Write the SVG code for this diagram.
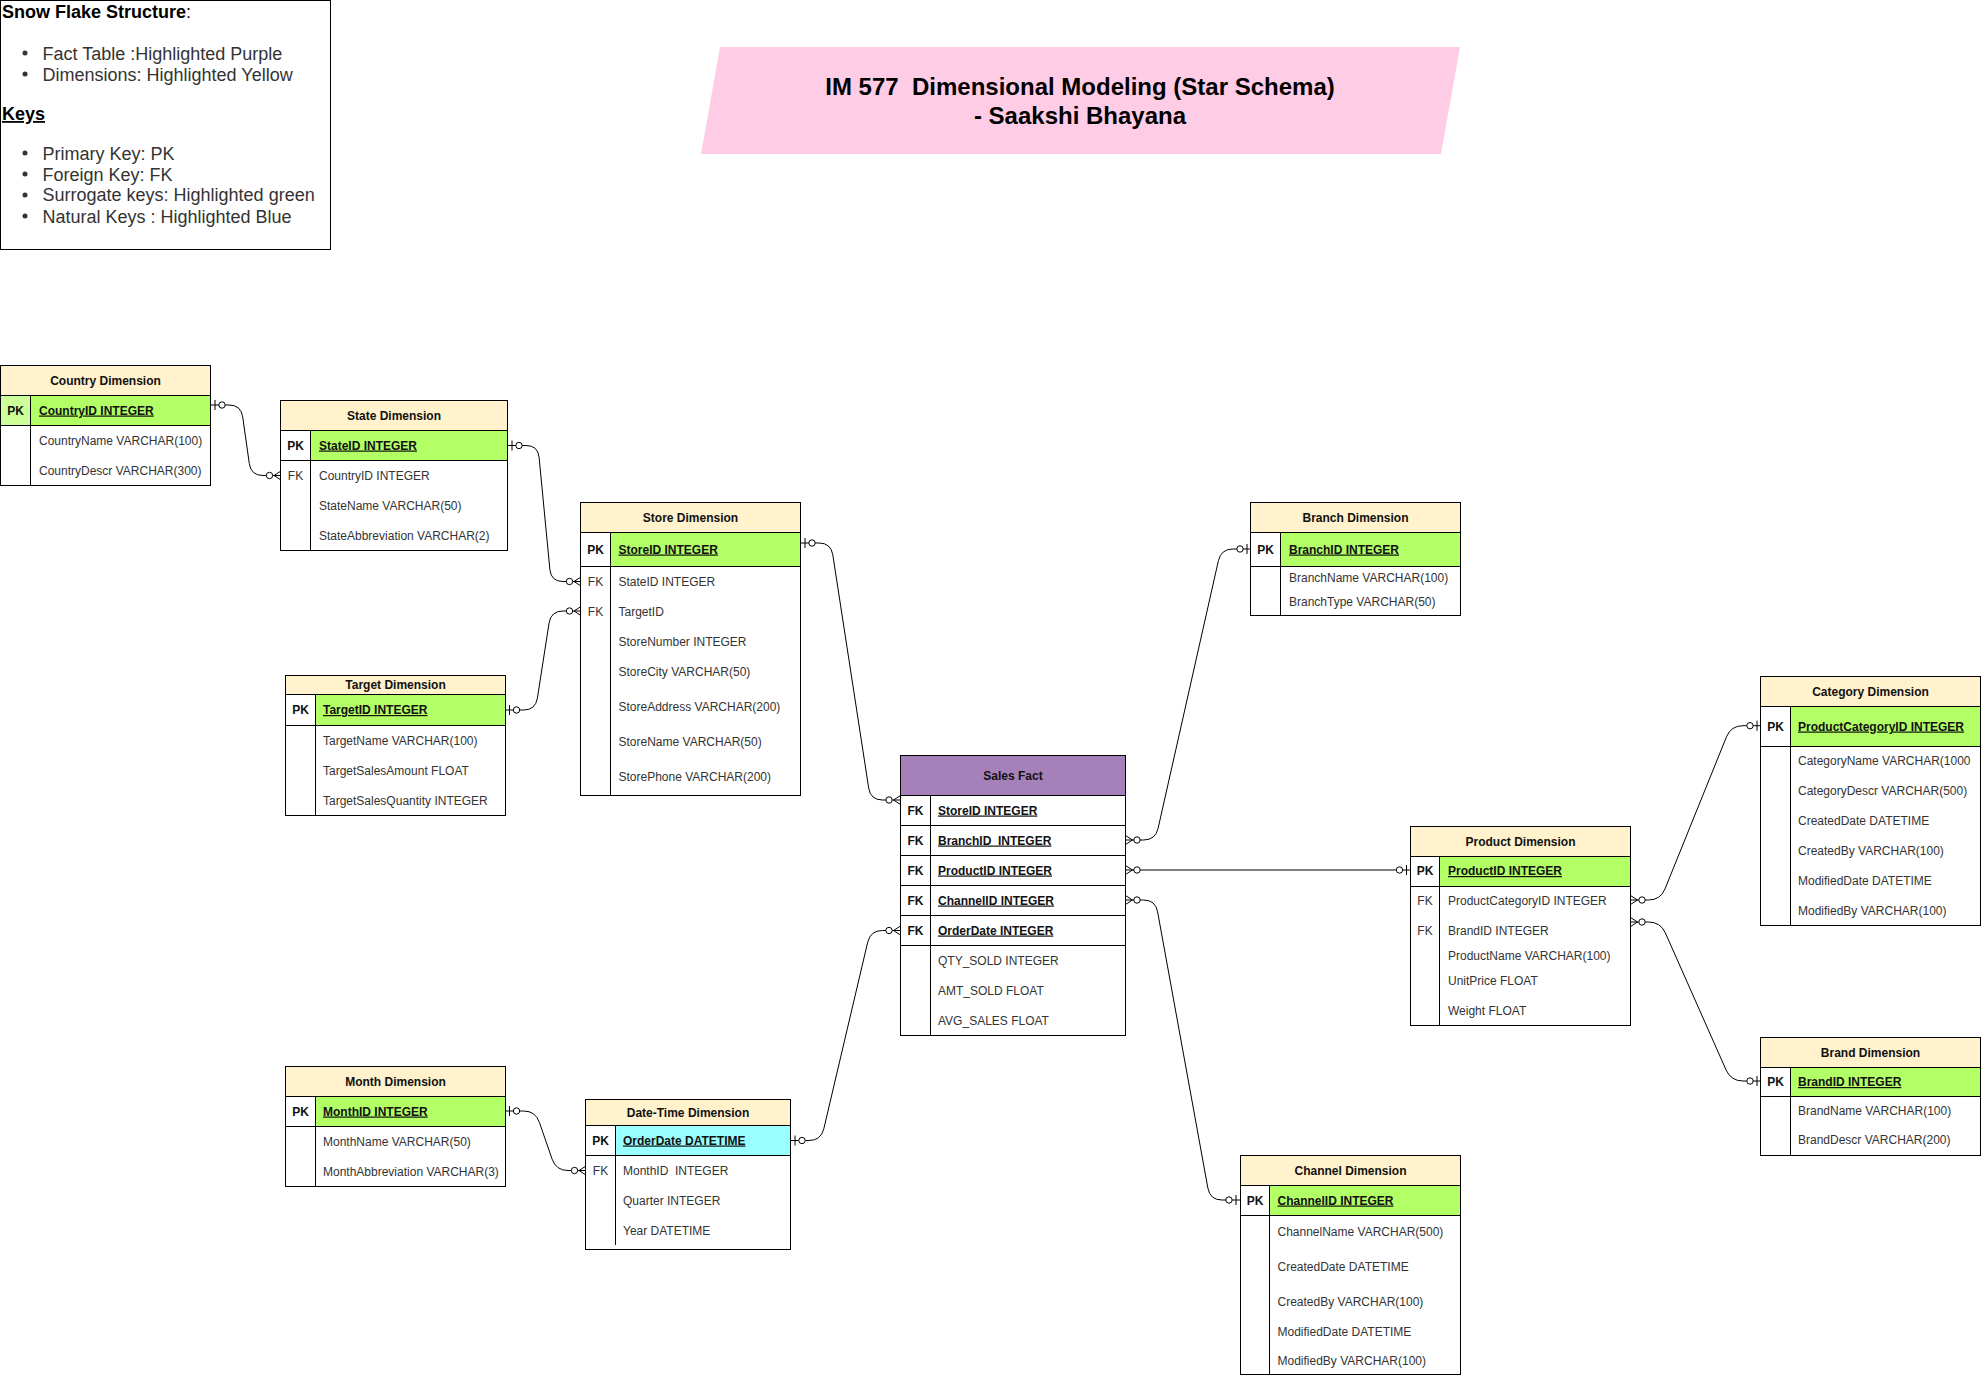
<svg xmlns="http://www.w3.org/2000/svg" width="1982" height="1376" viewBox="0 0 1982 1376">
<style>
.bg{fill:#fff}
.frame{fill:none;stroke:#000;stroke-width:1}
.body{fill:#fff}
.hdr{fill:#FFF2CC}
.hdrP{fill:#A680B8}
.pk{fill:#B3FF66}
.pkl{fill:#CCFF99}
.nk{fill:#99FFFF}
.ln{stroke:#000;stroke-width:1;fill:none}
.t{font-family:"Liberation Sans",Arial,sans-serif;font-size:12px;fill:#333}
.b{font-weight:bold;fill:#111}
.u{text-decoration:underline}
.c{text-anchor:middle}
.conn{fill:none;stroke:#000;stroke-width:1}
.lg{font-family:"Liberation Sans",Arial,sans-serif;font-size:18px;fill:#333}
.lgh{font-family:"Liberation Sans",Arial,sans-serif;font-size:18px;fill:#000}
.title{font-family:"Liberation Sans",Arial,sans-serif;font-size:24px;font-weight:bold;fill:#000;text-anchor:middle}
</style>
<defs>
<marker id="zeroOne" markerUnits="userSpaceOnUse" orient="auto-start-reverse" refX="0" refY="0" markerWidth="24" markerHeight="16" viewBox="-20 -8 24 16" overflow="visible">
<path d="M-4,-5 V5" fill="none" stroke="#000" stroke-width="1"/>
<circle cx="-11" cy="0" r="3.2" fill="#fff" stroke="#000" stroke-width="1"/>
</marker>
<marker id="zeroMany" markerUnits="userSpaceOnUse" orient="auto-start-reverse" refX="0" refY="0" markerWidth="24" markerHeight="16" viewBox="-20 -8 24 16" overflow="visible">
<path d="M0,-4.5 L-7,0 L0,4.5" fill="none" stroke="#000" stroke-width="1"/>
<circle cx="-11.5" cy="0" r="3.2" fill="#fff" stroke="#000" stroke-width="1"/>
</marker>
</defs>
<rect class="bg" x="0" y="0" width="1982" height="1376"/>

<g id="legend">
<rect x="0.5" y="0.5" width="330" height="249" fill="#fff" stroke="#000"/>
<text class="lgh" x="2" y="17.5"><tspan font-weight="bold">Snow Flake Structure</tspan>:</text>
<circle cx="25" cy="53" r="2.5" fill="#333"/>
<text class="lg" x="42.5" y="59.5">Fact Table :Highlighted Purple</text>
<circle cx="25" cy="74" r="2.5" fill="#333"/>
<text class="lg" x="42.5" y="80.5">Dimensions: Highlighted Yellow</text>
<text class="lgh" x="2" y="120" font-weight="bold" text-decoration="underline">Keys</text>
<circle cx="25" cy="153" r="2.5" fill="#333"/>
<text class="lg" x="42.5" y="159.5">Primary Key: PK</text>
<circle cx="25" cy="174" r="2.5" fill="#333"/>
<text class="lg" x="42.5" y="180.5">Foreign Key: FK</text>
<circle cx="25" cy="195" r="2.5" fill="#333"/>
<text class="lg" x="42.5" y="201">Surrogate keys: Highlighted green</text>
<circle cx="25" cy="216" r="2.5" fill="#333"/>
<text class="lg" x="42.5" y="222.5">Natural Keys : Highlighted Blue</text>
</g>

<g id="title">
<polygon points="720,47 1460,47 1441,154 701,154" fill="#FFCCE6"/>
<text class="title" x="1080" y="94.5" xml:space="preserve">IM 577  Dimensional Modeling (Star Schema)</text>
<text class="title" x="1080" y="123.5">- Saakshi Bhayana</text>
</g>

<g id="connectors">
<path class="conn" marker-start="url(#zeroOne)" marker-end="url(#zeroMany)" d="M211,405 H229 Q241,405 242.7,416.9 L249.3,463.6 Q251,475.5 263,475.5 H281"/>
<path class="conn" marker-start="url(#zeroOne)" marker-end="url(#zeroMany)" d="M508,445.5 H526 Q538,445.5 539.1,457.4 L549.9,569.6 Q551,581.5 563,581.5 H581"/>
<path class="conn" marker-start="url(#zeroOne)" marker-end="url(#zeroMany)" d="M505.5,710 H523.5 Q535.5,710 537.4,698.1 L549.1,622.9 Q551,611 563,611 H581"/>
<path class="conn" marker-start="url(#zeroOne)" marker-end="url(#zeroMany)" d="M801,543 H819 Q831,543 832.8,554.9 L868.7,788.1 Q870.5,800 882.5,800 H900.5"/>
<path class="conn" marker-start="url(#zeroMany)" marker-end="url(#zeroOne)" d="M1125.5,840 H1143.5 Q1155.5,840 1158.1,828.3 L1218.4,560.7 Q1221,549 1233,549 H1251"/>
<path class="conn" marker-start="url(#zeroMany)" marker-end="url(#zeroOne)" d="M1125.5,870 H1410.5"/>
<path class="conn" marker-start="url(#zeroMany)" marker-end="url(#zeroOne)" d="M1125.5,900 H1143.5 Q1155.5,900 1157.6,911.8 L1207.9,1188.2 Q1210,1200 1222,1200 H1240"/>
<path class="conn" marker-start="url(#zeroOne)" marker-end="url(#zeroMany)" d="M791,1140.5 H809 Q821,1140.5 823.8,1128.8 L867.7,942.2 Q870.5,930.5 882.5,930.5 H900.5"/>
<path class="conn" marker-start="url(#zeroOne)" marker-end="url(#zeroMany)" d="M505.5,1111 H523.5 Q535.5,1111 539.4,1122.4 L552.1,1159.1 Q556,1170.5 568,1170.5 H586"/>
<path class="conn" marker-start="url(#zeroMany)" marker-end="url(#zeroOne)" d="M1630.5,900 H1648.5 Q1660.5,900 1665,888.9 L1726.5,736.8 Q1731,725.7 1743,725.7 H1761"/>
<path class="conn" marker-start="url(#zeroMany)" marker-end="url(#zeroOne)" d="M1630.5,922 H1648.5 Q1660.5,922 1665.4,933 L1726.1,1070 Q1731,1081 1743,1081 H1761"/>
</g>

<g id="country-dimension">
<rect class="body" x="0.5" y="365.5" width="210" height="120"/>
<rect class="hdr" x="0.5" y="365.5" width="210" height="30"/>
<rect class="pkl" x="0.5" y="395.5" width="30" height="30"/>
<rect class="pk" x="30.5" y="395.5" width="180" height="30"/>
<path class="ln" d="M0.5,395.5 H210.5 M0.5,425.5 H210.5 M30.5,395.5 V485.5"/>
<rect class="frame" x="0.5" y="365.5" width="210" height="120"/>
<text class="t b c" x="105.5" y="384.5">Country Dimension</text>
<text class="t b c" x="15.5" y="414.5">PK</text>
<text class="t b u" x="39" y="414.5">CountryID INTEGER</text>
<text class="t" x="39" y="444.5">CountryName VARCHAR(100)</text>
<text class="t" x="39" y="474.5">CountryDescr VARCHAR(300)</text>
</g>

<g id="state-dimension">
<rect class="body" x="280.5" y="400.5" width="227" height="150"/>
<rect class="hdr" x="280.5" y="400.5" width="227" height="30"/>
<rect class="pk" x="310.5" y="430.5" width="197" height="30"/>
<path class="ln" d="M280.5,430.5 H507.5 M280.5,460.5 H507.5 M310.5,430.5 V550.5"/>
<rect class="frame" x="280.5" y="400.5" width="227" height="150"/>
<text class="t b c" x="394" y="419.5">State Dimension</text>
<text class="t b c" x="295.5" y="449.5">PK</text>
<text class="t b u" x="319" y="449.5">StateID INTEGER</text>
<text class="t c" x="295.5" y="479.5">FK</text>
<text class="t" x="319" y="479.5">CountryID INTEGER</text>
<text class="t" x="319" y="509.5">StateName VARCHAR(50)</text>
<text class="t" x="319" y="539.5">StateAbbreviation VARCHAR(2)</text>
</g>

<g id="store-dimension">
<rect class="body" x="580.5" y="502.5" width="220" height="293"/>
<rect class="hdr" x="580.5" y="502.5" width="220" height="30"/>
<rect class="pk" x="610.5" y="532.5" width="190" height="34"/>
<path class="ln" d="M580.5,532.5 H800.5 M580.5,566.5 H800.5 M610.5,532.5 V795.5"/>
<rect class="frame" x="580.5" y="502.5" width="220" height="293"/>
<text class="t b c" x="690.5" y="521.5">Store Dimension</text>
<text class="t b c" x="595.5" y="553.5">PK</text>
<text class="t b u" x="618.5" y="553.5">StoreID INTEGER</text>
<text class="t c" x="595.5" y="585.5">FK</text>
<text class="t" x="618.5" y="585.5">StateID INTEGER</text>
<text class="t c" x="595.5" y="615.5">FK</text>
<text class="t" x="618.5" y="615.5">TargetID</text>
<text class="t" x="618.5" y="645.5">StoreNumber INTEGER</text>
<text class="t" x="618.5" y="675.5">StoreCity VARCHAR(50)</text>
<text class="t" x="618.5" y="710.5">StoreAddress VARCHAR(200)</text>
<text class="t" x="618.5" y="745.5">StoreName VARCHAR(50)</text>
<text class="t" x="618.5" y="780.5">StorePhone VARCHAR(200)</text>
</g>

<g id="target-dimension">
<rect class="body" x="285.5" y="675.5" width="220" height="140"/>
<rect class="hdr" x="285.5" y="675.5" width="220" height="19"/>
<rect class="pk" x="315.5" y="694.5" width="190" height="31"/>
<path class="ln" d="M285.5,694.5 H505.5 M285.5,725.5 H505.5 M315.5,694.5 V815.5"/>
<rect class="frame" x="285.5" y="675.5" width="220" height="140"/>
<text class="t b c" x="395.5" y="689">Target Dimension</text>
<text class="t b c" x="300.5" y="714">PK</text>
<text class="t b u" x="323" y="714">TargetID INTEGER</text>
<text class="t" x="323" y="744.7">TargetName VARCHAR(100)</text>
<text class="t" x="323" y="774.7">TargetSalesAmount FLOAT</text>
<text class="t" x="323" y="804.7">TargetSalesQuantity INTEGER</text>
</g>

<g id="month-dimension">
<rect class="body" x="285.5" y="1066.5" width="220" height="120"/>
<rect class="hdr" x="285.5" y="1066.5" width="220" height="30"/>
<rect class="pk" x="315.5" y="1096.5" width="190" height="30"/>
<path class="ln" d="M285.5,1096.5 H505.5 M285.5,1126.5 H505.5 M315.5,1096.5 V1186.5"/>
<rect class="frame" x="285.5" y="1066.5" width="220" height="120"/>
<text class="t b c" x="395.5" y="1085.5">Month Dimension</text>
<text class="t b c" x="300.5" y="1115.5">PK</text>
<text class="t b u" x="323" y="1115.5">MonthID INTEGER</text>
<text class="t" x="323" y="1145.5">MonthName VARCHAR(50)</text>
<text class="t" x="323" y="1175.5">MonthAbbreviation VARCHAR(3)</text>
</g>

<g id="datetime-dimension">
<rect class="body" x="585.5" y="1099.5" width="205" height="150"/>
<rect class="hdr" x="585.5" y="1099.5" width="205" height="26"/>
<rect class="nk" x="615.5" y="1125.5" width="175" height="30"/>
<path class="ln" d="M585.5,1125.5 H790.5 M585.5,1155.5 H790.5 M615.5,1125.5 V1245"/>
<rect class="frame" x="585.5" y="1099.5" width="205" height="150"/>
<text class="t b c" x="688" y="1116.5">Date-Time Dimension</text>
<text class="t b c" x="600.5" y="1144.5">PK</text>
<text class="t b u" x="623" y="1144.5">OrderDate DATETIME</text>
<text class="t c" x="600.5" y="1174.5">FK</text>
<text class="t" x="623" y="1174.5" xml:space="preserve">MonthID  INTEGER</text>
<text class="t" x="623" y="1204.5">Quarter INTEGER</text>
<text class="t" x="623" y="1234.5">Year DATETIME</text>
</g>

<g id="sales-fact">
<rect class="body" x="900.5" y="755.5" width="225" height="280"/>
<rect class="hdrP" x="900.5" y="755.5" width="225" height="40"/>
<path class="ln" d="M900.5,795.5 H1125.5 M900.5,825.5 H1125.5 M900.5,855.5 H1125.5 M900.5,885.5 H1125.5 M900.5,915.5 H1125.5 M900.5,945.5 H1125.5 M930.5,795.5 V1035.5"/>
<rect class="frame" x="900.5" y="755.5" width="225" height="280"/>
<text class="t b c" x="1013" y="779.5">Sales Fact</text>
<text class="t b c" x="915.5" y="814.5">FK</text>
<text class="t b u" x="938" y="814.5">StoreID INTEGER</text>
<text class="t b c" x="915.5" y="844.5">FK</text>
<text class="t b u" x="938" y="844.5" xml:space="preserve">BranchID  INTEGER</text>
<text class="t b c" x="915.5" y="874.5">FK</text>
<text class="t b u" x="938" y="874.5">ProductID INTEGER</text>
<text class="t b c" x="915.5" y="904.5">FK</text>
<text class="t b u" x="938" y="904.5">ChannelID INTEGER</text>
<text class="t b c" x="915.5" y="934.5">FK</text>
<text class="t b u" x="938" y="934.5">OrderDate INTEGER</text>
<text class="t" x="938" y="964.5">QTY_SOLD INTEGER</text>
<text class="t" x="938" y="994.5">AMT_SOLD FLOAT</text>
<text class="t" x="938" y="1024.5">AVG_SALES FLOAT</text>
</g>

<g id="branch-dimension">
<rect class="body" x="1250.5" y="502.5" width="210" height="113"/>
<rect class="hdr" x="1250.5" y="502.5" width="210" height="30"/>
<rect class="pk" x="1280.5" y="532.5" width="180" height="34"/>
<path class="ln" d="M1250.5,532.5 H1460.5 M1250.5,566.5 H1460.5 M1280.5,532.5 V615.5"/>
<rect class="frame" x="1250.5" y="502.5" width="210" height="113"/>
<text class="t b c" x="1355.5" y="521.5">Branch Dimension</text>
<text class="t b c" x="1265.5" y="553.5">PK</text>
<text class="t b u" x="1289" y="553.5">BranchID INTEGER</text>
<text class="t" x="1289" y="582">BranchName VARCHAR(100)</text>
<text class="t" x="1289" y="606">BranchType VARCHAR(50)</text>
</g>

<g id="product-dimension">
<rect class="body" x="1410.5" y="826.5" width="220" height="199"/>
<rect class="hdr" x="1410.5" y="826.5" width="220" height="30"/>
<rect class="pk" x="1439.5" y="856.5" width="191" height="30"/>
<path class="ln" d="M1410.5,856.5 H1630.5 M1410.5,886.5 H1630.5 M1439.5,856.5 V1025.5"/>
<rect class="frame" x="1410.5" y="826.5" width="220" height="199"/>
<text class="t b c" x="1520.5" y="845.5">Product Dimension</text>
<text class="t b c" x="1425" y="875">PK</text>
<text class="t b u" x="1448" y="875">ProductID INTEGER</text>
<text class="t c" x="1425" y="905">FK</text>
<text class="t" x="1448" y="905">ProductCategoryID INTEGER</text>
<text class="t c" x="1425" y="935">FK</text>
<text class="t" x="1448" y="935">BrandID INTEGER</text>
<text class="t" x="1448" y="960">ProductName VARCHAR(100)</text>
<text class="t" x="1448" y="985">UnitPrice FLOAT</text>
<text class="t" x="1448" y="1015">Weight FLOAT</text>
</g>

<g id="category-dimension">
<rect class="body" x="1760.5" y="676.5" width="220" height="249"/>
<rect class="hdr" x="1760.5" y="676.5" width="220" height="30"/>
<rect class="pk" x="1790.5" y="706.5" width="190" height="40"/>
<path class="ln" d="M1760.5,706.5 H1980.5 M1760.5,746.5 H1980.5 M1790.5,706.5 V925.5"/>
<rect class="frame" x="1760.5" y="676.5" width="220" height="249"/>
<text class="t b c" x="1870.5" y="695.5">Category Dimension</text>
<text class="t b c" x="1775.5" y="730.5">PK</text>
<text class="t b u" x="1798" y="730.5">ProductCategoryID INTEGER</text>
<text class="t" x="1798" y="765">CategoryName VARCHAR(1000</text>
<text class="t" x="1798" y="795">CategoryDescr VARCHAR(500)</text>
<text class="t" x="1798" y="825">CreatedDate DATETIME</text>
<text class="t" x="1798" y="855">CreatedBy VARCHAR(100)</text>
<text class="t" x="1798" y="885">ModifiedDate DATETIME</text>
<text class="t" x="1798" y="915">ModifiedBy VARCHAR(100)</text>
</g>

<g id="brand-dimension">
<rect class="body" x="1760.5" y="1037.5" width="220" height="118"/>
<rect class="hdr" x="1760.5" y="1037.5" width="220" height="30"/>
<rect class="pk" x="1790.5" y="1067.5" width="190" height="29"/>
<path class="ln" d="M1760.5,1067.5 H1980.5 M1760.5,1096.5 H1980.5 M1790.5,1067.5 V1155.5"/>
<rect class="frame" x="1760.5" y="1037.5" width="220" height="118"/>
<text class="t b c" x="1870.5" y="1056.5">Brand Dimension</text>
<text class="t b c" x="1775.5" y="1086">PK</text>
<text class="t b u" x="1798" y="1086">BrandID INTEGER</text>
<text class="t" x="1798" y="1115">BrandName VARCHAR(100)</text>
<text class="t" x="1798" y="1144">BrandDescr VARCHAR(200)</text>
</g>

<g id="channel-dimension">
<rect class="body" x="1240.5" y="1155.5" width="220" height="219"/>
<rect class="hdr" x="1240.5" y="1155.5" width="220" height="30"/>
<rect class="pk" x="1269.5" y="1185.5" width="191" height="30"/>
<path class="ln" d="M1240.5,1185.5 H1460.5 M1240.5,1215.5 H1460.5 M1269.5,1185.5 V1374.5"/>
<rect class="frame" x="1240.5" y="1155.5" width="220" height="219"/>
<text class="t b c" x="1350.5" y="1174.5">Channel Dimension</text>
<text class="t b c" x="1255" y="1204.5">PK</text>
<text class="t b u" x="1277.5" y="1204.5">ChannelID INTEGER</text>
<text class="t" x="1277.5" y="1236">ChannelName VARCHAR(500)</text>
<text class="t" x="1277.5" y="1271">CreatedDate DATETIME</text>
<text class="t" x="1277.5" y="1306">CreatedBy VARCHAR(100)</text>
<text class="t" x="1277.5" y="1336">ModifiedDate DATETIME</text>
<text class="t" x="1277.5" y="1365">ModifiedBy VARCHAR(100)</text>
</g>
</svg>
